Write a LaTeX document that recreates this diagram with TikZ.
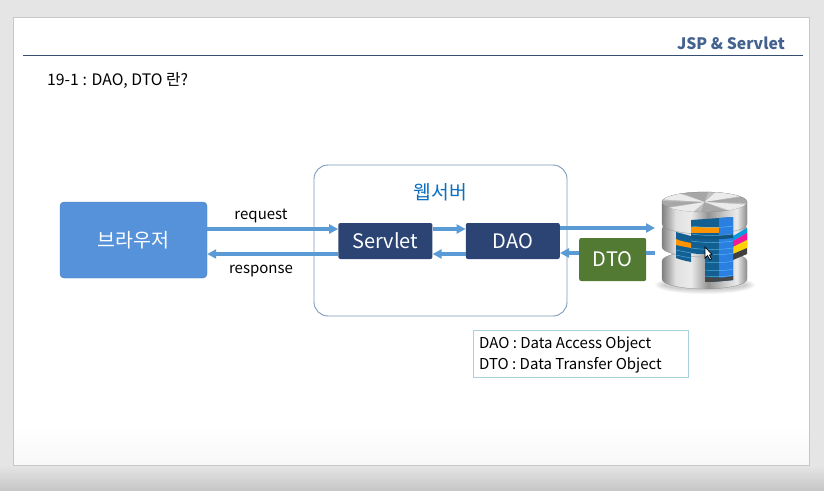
\documentclass[tikz,border=0pt]{standalone}
\usepackage{fontspec}
\setmainfont{Noto Sans CJK KR}
\usetikzlibrary{positioning, arrows.meta, fit, backgrounds}
\definecolor{arrowblue}{HTML}{5B9BD5}
\definecolor{browserblue}{HTML}{5592D9}
\definecolor{navybox}{HTML}{2B4474}
\definecolor{greenbox}{HTML}{537A33}
\definecolor{titleblue}{HTML}{44628F}
\definecolor{webblue}{HTML}{0B6FC2}
\definecolor{framegray}{HTML}{7F9AB8}
\definecolor{legendline}{HTML}{A9D1DE}
\definecolor{dbteal}{HTML}{135F92}
\definecolor{dbblue}{HTML}{2A7FE0}
\pgfdeclarehorizontalshading{metal}{100bp}{
    color(0bp)=(black!50);
    color(25bp)=(black!50);
    color(33bp)=(black!12);
    color(42bp)=(black!8);
    color(52bp)=(black!42);
    color(62bp)=(black!20);
    color(69bp)=(black!8);
    color(75bp)=(black!45);
    color(100bp)=(black!45)
}
\tikzset{
    block/.style={
        rectangle, rounded corners=2pt, text=white,
        minimum width=94pt, minimum height=36pt,
        inner sep=0pt, fill=navybox, font=\fontsize{20}{22}\selectfont
    },
    browser_box/.style={
        rectangle, rounded corners=4pt, text=white,
        minimum width=147pt, minimum height=76pt,
        inner sep=0pt, fill=browserblue, draw=browserblue!85!black, font=\fontsize{19.5}{22}\selectfont
    },
    dto_box/.style={
        block, fill=greenbox, minimum width=67pt, minimum height=43pt
    },
    msg/.style={
        -{Triangle[length=9pt,width=9pt]}, line width=3.2pt, draw=arrowblue
    },
    msg_plain/.style={
        line width=3.2pt, draw=arrowblue
    },
    label_text/.style={
        font=\fontsize{15}{17}\selectfont, text=black, inner sep=0pt
    },
    silver/.style={
        shading=metal, draw=black!45, line width=0.3pt
    }
}

\begin{document}
\begin{tikzpicture}[x=1pt, y=-1pt]

\useasboundingbox (0,0) rectangle (824,490);

% slide
\fill[black!10] (0,0) rectangle (824,490);
\fill[top color=black!10, bottom color=black!22] (0,465) rectangle (824,490);
\fill[white] (13,17.5) rectangle (809.5,465);
\fill[top color=white, bottom color=black!3] (13,425) rectangle (809.5,465);
\draw[black!22, line width=0.8pt] (13,17.5) rectangle (809.5,465);
\draw[draw=titleblue!80!black, line width=0.9pt] (23,55.5) coordinate (rule_a) -- (803,55.5) coordinate (rule_b);
\node[anchor=east, inner sep=0pt, text=titleblue, font=\fontsize{15.8}{18}\selectfont\bfseries] (title) at (785,43) {JSP \& Servlet};
\node[anchor=west, label_text, font=\fontsize{15.8}{18}\selectfont] (heading) at (47,80.5) {19-1 : DAO, DTO 란?};

% web server frame
\node[rectangle, draw=framegray, line width=0.9pt, rounded corners=14pt, minimum width=253pt, minimum height=151pt, inner sep=0pt] (webserver) at (440.5,240.5) {};
\node[inner sep=0pt, text=webblue, font=\fontsize{19.3}{22}\selectfont] (webserver_label) at (440.5,192) {웹서버};

\node[browser_box] (browser) at (133.5,240) {브라우저};
\node[block, right=131pt of browser, yshift=-1pt] (servlet) {Servlet};
\node[block, right=33pt of servlet] (dao) {DAO};
\node[dto_box, right=19pt of dao, yshift=-18.5pt] (dto) {DTO};

\node[label_text] (request) at (261,216) {request};
\node[label_text] (response) at (261,271.5) {response};

% database
\coordinate (db_in) at (655,228);
\coordinate (db_out) at (655,253);
\begin{scope}
    \foreach \i in {1,...,5}
        \fill[black, opacity=0.04] (705,285) ellipse ({40+\i*2} and {4+\i});
    % bottom slab
    \path[silver] (662,261) -- (662,279) arc[start angle=180, end angle=0, x radius=42.5, y radius=10] -- (747,261) arc[start angle=360, end angle=180, x radius=42.5, y radius=10] -- cycle;
    % middle slab
    \path[silver] (662,229) -- (662,247) arc[start angle=180, end angle=0, x radius=42.5, y radius=10] -- (747,229) arc[start angle=360, end angle=180, x radius=42.5, y radius=10] -- cycle;
    % colour edge of the middle slab
    \fill[cyan!85!blue] (733,236) -- (747,228) -- (747,233) -- (733,241) -- cycle;
    \fill[magenta!90!white] (733,241) -- (747,233) -- (747,240) -- (733,247) -- cycle;
    \fill[yellow!70!orange] (733,247) -- (747,240) -- (747,248) -- (733,254) -- cycle;
    \fill[black!75] (733,254) -- (747,248) -- (747,254) -- (733,260) -- cycle;
    % top slab
    \path[silver] (662,202) -- (662,224) arc[start angle=180, end angle=0, x radius=42.5, y radius=10] -- (747,202) arc[start angle=360, end angle=180, x radius=42.5, y radius=10] -- cycle;
    % blue cut-out
    \fill[dbteal] (691,220) -- (733,217) -- (733,280) .. controls (724,281) and (715,282) .. (705,282) -- (705,254) .. controls (700,254) and (695,254) .. (691,253) -- (691,262) .. controls (686,261) and (681,260) .. (676,258) -- (676,232) -- (691,236) -- cycle;
    \fill[dbblue] (719,218) -- (733,217) -- (733,280) -- (719,281) -- cycle;
    \fill[dbteal!90!black] (691,233) .. controls (700,236) and (715,236) .. (733,234) -- (733,238) .. controls (715,240) and (700,240) .. (691,238) -- cycle;
    \fill[orange!85!yellow] (691,227) -- (719,227) -- (719,233) -- (691,233) -- cycle;
    \fill[orange!85!yellow] (676,239) .. controls (680,241) and (686,242) .. (691,243) -- (691,248) .. controls (686,247) and (680,246) .. (676,245) -- cycle;
    \foreach \y in {226,234,241,248}
        \draw[cyan!60!white, line width=0.5pt, opacity=0.7] (691,\y) .. controls (705,\y+2) and (720,\y+2) .. (733,\y);
    \foreach \y in {254,262,270,276}
        \draw[cyan!60!white, line width=0.5pt, opacity=0.7] (705,\y) .. controls (715,\y+1) and (725,\y+1) .. (733,\y-1);
    \foreach \y in {250,255}
        \draw[cyan!60!white, line width=0.5pt, opacity=0.7] (676,\y) .. controls (680,\y+1) and (686,\y+2) .. (691,\y+3);
    \fill[black!72] (705,277) .. controls (715,278) and (725,278) .. (733,276) -- (733,280) .. controls (724,281) and (715,282) .. (705,282) -- cycle;
    % lid
    \fill[black!25, draw=black!40, line width=0.3pt] (704.5,202) ellipse (42.5 and 10);
    \foreach \a in {15,105,195,285}
        \fill[white, opacity=0.7] (704.5,202) -- ({704.5+42.5*cos(\a)},{202+10*sin(\a)}) arc[start angle=\a, end angle=\a+40, x radius=42.5, y radius=10] -- cycle;
    \foreach \a in {60,150,240,330}
        \fill[black, opacity=0.12] (704.5,202) -- ({704.5+42.5*cos(\a)},{202+10*sin(\a)}) arc[start angle=\a, end angle=\a+35, x radius=42.5, y radius=10] -- cycle;
    % cursor
    \fill[white, draw=black, line width=0.7pt] (705,247) -- (705,258) -- (707.5,255.5) -- (710,260) -- (711.5,259) -- (709.5,255) -- (712,254.5) -- cycle;
\end{scope}

% connectors
\draw[msg] ([yshift=11pt]browser.east) -- ([yshift=12pt]servlet.west);
\draw[msg] ([yshift=-13pt]servlet.west) -- ([yshift=-14pt]browser.east);
\draw[msg] ([yshift=12pt]servlet.east) -- ([yshift=12pt]dao.west);
\draw[msg] ([yshift=-13pt]dao.west) -- ([yshift=-13pt]servlet.east);
\draw[msg] ([yshift=13pt]dao.east) -- (db_in);
\draw[msg] (dto.west |- db_out) -- ([yshift=-12pt]dao.east);
\draw[msg_plain] (db_out) -- (dto.east |- db_out);

% legend
\node[rectangle, draw=legendline, line width=0.9pt, minimum width=215pt, minimum height=47pt, inner sep=0pt] (legend) at (580.5,353.5) {};
\node[anchor=west, label_text] (legend_dao) at (479,344) {DAO : Data Access Object};
\node[anchor=west, label_text] (legend_dto) at (479,365) {DTO : Data Transfer Object};

\end{tikzpicture}
\end{document}
